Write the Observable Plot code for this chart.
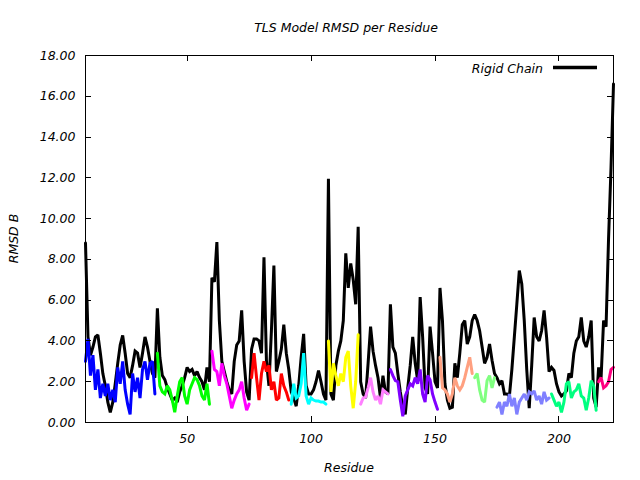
<!DOCTYPE html>
<html>
<head>
<meta charset="utf-8">
<script src="https://cdn.jsdelivr.net/npm/d3@7"></script>
<script src="https://cdn.jsdelivr.net/npm/@observablehq/plot@0.6"></script>
<style>
  html, body { margin: 0; padding: 0; background: #ffffff; }
  #chart { width: 640px; height: 480px; }
</style>
</head>
<body>
<div id="chart"></div>
<script>
// ---- Data ----
const titleText = "TLS Model RMSD per Residue";
const xLabel = "Residue";
const yLabel = "RMSD B";
const legendLabel = "Rigid Chain";

const firstResidue = 9;
const lastResidue = 222;

// Rigid chain RMSD B, residues 9..222
const rigidChain = [
  8.8, 4.2, 3.3, 3.7, 4.2, 4.3, 3.4, 2.4, 1.8, 1.0,
  0.5, 1.0, 1.9, 2.9, 3.8, 4.27, 3.4, 2.4, 2.2, 2.8,
  3.5, 3.4, 2.7, 3.4, 4.2, 3.7, 3.0, 2.4, 2.2, 5.6,
  3.2, 2.3, 2.1, 1.7, 1.4, 1.1, 1.2, 1.0, 1.5, 1.8,
  2.2, 2.7, 2.5, 2.6, 2.3, 2.5, 2.2, 2.0, 1.6, 2.7,
  2.0, 7.1, 6.9, 8.85, 5.0, 3.0, 2.5, 2.0, 1.6, 1.4,
  3.0, 3.8, 4.0, 5.5, 3.0, 1.5, 1.1, 3.6, 4.1, 4.1,
  4.0, 3.4, 8.1, 3.0, 1.8, 4.5, 7.7, 2.5, 3.0, 3.6,
  4.8, 3.4, 2.6, 1.5, 1.2, 0.8, 1.8, 3.2, 4.35, 1.8,
  1.4, 1.4, 1.6, 2.0, 2.55, 2.0, 1.4, 1.1, 11.95, 1.4,
  1.1, 2.8, 3.5, 4.0, 5.0, 8.3, 6.6, 7.8, 7.0, 5.8,
  9.6, 2.0, 1.4, 1.2, 2.9, 4.7, 3.5, 2.8, 2.2, 1.2,
  2.3, 1.5, 1.4, 5.8, 3.7, 3.4, 2.4, 1.5, 0.75, 0.4,
  1.7, 2.8, 4.2, 2.9, 2.05, 6.15, 4.2, 1.7, 1.4, 4.7,
  3.4, 2.0, 1.7, 6.6, 5.0, 1.9, 1.1, 0.7, 0.75, 2.9,
  2.2, 3.4, 4.8, 5.0, 3.85, 4.2, 5.0, 5.3, 5.0, 4.5,
  3.7, 2.9, 3.2, 3.85, 3.05, 2.4, 2.2, 1.9, 2.05, 1.4,
  1.4, 1.3, 2.6, 4.2, 5.8, 7.45, 6.8, 5.0, 2.6, 0.7,
  2.8, 5.15, 4.2, 4.0, 4.5, 5.5, 4.2, 2.5, 2.7, 2.55,
  1.9, 1.5, 1.3, 1.4, 1.55, 2.4, 2.2, 3.4, 4.0, 4.2,
  5.15, 4.0, 3.7, 4.2, 5.0, 1.2, 0.75, 2.7, 2.2, 5.0,
  4.7, 9.0, 12.5, 16.6
];

// TLS groups: first residue, colour, RMSD B per residue
const tlsStart = [9, 38, 60, 76, 92, 107, 120, 132, 152, 166, 175, 197, 216];
const tlsColor = ["#0000ff", "#00ff00", "#ff00ff", "#ff0000", "#00ffff", "#ffff00",
                  "#ff80ff", "#8000ff", "#ffa080", "#80ff80", "#8080ff", "#00ff80", "#ff0080"];
const tlsRmsd = [
  [3.0, 4.1, 2.3, 3.3, 1.6, 2.6, 1.2, 1.9, 1.3, 1.9, 1.1, 1.6, 1.0, 2.7, 1.9, 3.0, 1.6, 0.9, 0.4, 2.4, 1.5, 2.2, 1.2, 2.6, 3.0, 2.1, 2.9, 3.0, 1.4],
  [3.4, 1.8, 1.5, 1.4, 1.8, 1.6, 1.1, 0.5, 1.3, 2.0, 2.2, 1.3, 0.9, 1.6, 1.9, 2.2, 2.1, 1.8, 1.3, 1.1, 1.9, 0.9],
  [3.5, 2.6, 2.5, 1.8, 2.9, 2.3, 1.9, 1.3, 0.7, 1.1, 1.4, 1.6, 2.0, 1.2, 0.6, 0.9],
  [2.2, 3.4, 2.2, 1.1, 2.4, 3.0, 2.5, 2.8, 1.6, 2.0, 1.1, 1.2, 2.4, 1.8, 1.5, 1.1],
  [0.9, 1.9, 1.2, 1.3, 1.9, 3.4, 1.3, 0.9, 1.2, 1.1, 1.05, 1.05, 1.0, 1.0, 0.9],
  [4.0, 1.5, 2.9, 2.3, 1.8, 2.4, 2.0, 3.2, 3.5, 1.8, 0.7, 2.0, 4.3],
  [0.9, 1.2, 1.25, 1.7, 2.2, 1.5, 1.1, 1.3, 0.9, 1.6, 1.5, 1.4],
  [2.6, 2.3, 2.05, 2.0, 1.1, 0.3, 1.3, 1.6, 1.9, 1.8, 2.2, 1.9, 2.6, 1.4, 1.0, 2.3, 2.1, 1.4, 1.0, 0.65],
  [3.2, 1.7, 1.6, 1.4, 1.0, 1.4, 2.2, 1.8, 1.6, 1.8, 2.2, 2.7, 3.2, 2.4],
  [2.2, 2.4, 1.6, 1.1, 1.0, 2.05, 2.3, 1.7, 2.2],
  [0.75, 1.0, 0.4, 1.0, 0.8, 1.4, 0.8, 1.2, 0.4, 1.0, 1.2, 1.4, 1.1, 1.5, 1.4, 1.55, 1.1, 1.3, 0.9, 1.5, 1.1, 1.2],
  [1.4, 1.1, 0.8, 1.0, 0.5, 1.0, 1.9, 2.0, 1.2, 1.5, 1.6, 1.9, 1.3, 1.2, 0.6, 1.2, 2.05, 1.8, 0.6],
  [2.0, 2.2, 1.7, 1.8, 2.0, 2.6, 2.7]
];

const yTicks = [0, 2, 4, 6, 8, 10, 12, 14, 16, 18];
const xTicks = [50, 100, 150, 200];

// ---- Build tables ----
const rigidRows = rigidChain.map((v, i) => ({residue: firstResidue + i, rmsd: v}));
const tlsRows = tlsRmsd.map((vals, g) => vals.map((v, i) => ({residue: tlsStart[g] + i, rmsd: v})));

const FONT = "DejaVu Sans";
const FS = 12.5;

function decorations(index, scales, values, dim) {
  const L = dim.marginLeft, R = dim.width - dim.marginRight;
  const T = dim.marginTop, B = dim.height - dim.marginBottom;
  const g = d3.create("svg:g")
    .attr("font-family", FONT).attr("font-style", "italic").attr("font-size", FS).attr("fill", "black");
  const ticks = g.append("g").attr("stroke", "black").attr("stroke-width", 1);
  for (const t of yTicks) {
    const y = Math.round(scales.y(t)) + 0.5;
    ticks.append("line").attr("x1", L).attr("x2", L + 6).attr("y1", y).attr("y2", y);
    ticks.append("line").attr("x1", R - 6).attr("x2", R).attr("y1", y).attr("y2", y);
  }
  for (const t of xTicks) {
    const x = Math.round(scales.x(t)) + 0.5;
    ticks.append("line").attr("x1", x).attr("x2", x).attr("y1", B - 6).attr("y2", B);
    ticks.append("line").attr("x1", x).attr("x2", x).attr("y1", T).attr("y2", T + 6);
  }
  // title
  g.append("text").attr("x", 346).attr("y", 27).attr("text-anchor", "middle")
    .attr("dominant-baseline", "central").text(titleText);
  // axis labels
  g.append("text").attr("x", (L + R) / 2).attr("y", 467).attr("text-anchor", "middle")
    .attr("dominant-baseline", "central").text(xLabel);
  g.append("text").attr("transform", `translate(13,${(T + B) / 2}) rotate(-90)`)
    .attr("text-anchor", "middle").attr("dominant-baseline", "central").text(yLabel);
  // legend
  g.append("text").attr("x", R - 70).attr("y", T + 13).attr("text-anchor", "end")
    .attr("dominant-baseline", "central").text(legendLabel);
  g.append("line").attr("x1", R - 60).attr("x2", R - 16).attr("y1", T + 12.5).attr("y2", T + 12.5)
    .attr("stroke", "black").attr("stroke-width", 3.5);
  return g.node();
}

const lineStyle = {strokeWidth: 3, strokeLinejoin: "miter", strokeMiterlimit: 2};
const marks = [
  Plot.line(rigidRows, {x: "residue", y: "rmsd", stroke: "black", ...lineStyle})
];
tlsRows.forEach((rows, gi) => {
  marks.push(Plot.line(rows, {x: "residue", y: "rmsd", stroke: tlsColor[gi], ...lineStyle}));
});
marks.push(
  Plot.frame({stroke: "black", strokeWidth: 1}),
  Plot.axisY({ticks: yTicks, tickSize: 0, tickPadding: 10, tickFormat: d3.format(".2f"), label: null}),
  Plot.axisX({ticks: xTicks, tickSize: 0, tickPadding: 12, label: null}),
  decorations
);

const chart = Plot.plot({
  width: 640,
  height: 480,
  marginLeft: 85,
  marginRight: 27,
  marginTop: 55,
  marginBottom: 58,
  style: {fontFamily: FONT, fontStyle: "italic", fontSize: FS + "px", background: "white", color: "black", overflow: "visible"},
  x: {domain: [firstResidue, lastResidue]},
  y: {domain: [0, 18]},
  marks
});
document.getElementById("chart").appendChild(chart);
</script>
</body>
</html>
